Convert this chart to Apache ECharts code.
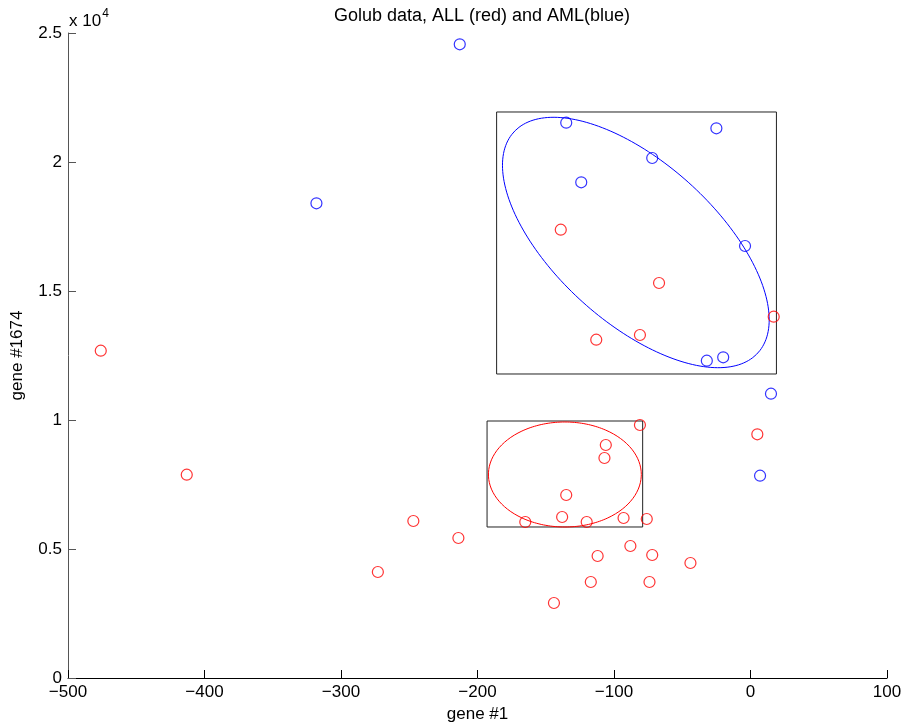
<!DOCTYPE html>
<html>
<head>
<meta charset="utf-8">
<script src="https://cdn.jsdelivr.net/npm/echarts@6/dist/echarts.min.js"></script>
<style>
  html, body { margin: 0; padding: 0; background: #fff; }
  #chart { width: 905px; height: 728px; }
</style>
</head>
<body>
<div id="chart"></div>
<script>
// ALL samples (red), gene #1 vs gene #1674
const allX = [-476, -413, -247, -214, -273, -139, -67, 17, -81, -113, -81, -106, -107, 5,
  -135, -165, -138, -120, -93, -76, -88, -112, -72, -44, -117, -74, -144]
const allY = [12686, 7880, 6085, 5426, 4109, 17376, 15310, 14004, 13295, 13112, 9806, 9031, 8527, 9446,
  7093, 6047, 6240, 6047, 6202, 6163, 5116, 4729, 4767, 4457, 3721, 3721, 2907]

// AML samples (blue)
const amlX = [-213, -318, -135, -25, -72, -124, -4, -32, -20, 15, 7]
const amlY = [24562, 18400, 21523, 21306, 20155, 19213, 16744, 12298, 12430, 11019, 7841]

// fitted ellipses: center, spread (x, y), correlation
const amlEllipseCenter = [-84, 16880]
const amlEllipseSpread = [97.7, 4853]
const amlEllipseRho = -0.617
const allEllipseCenter = [-136, 7888]
const allEllipseSpread = [56, 2035]
const allEllipseRho = 0

// boxes: [xmin, xmax, ymin, ymax]
const amlBox = [-186, 19, 11783, 21938]
const allBox = [-193, -79, 5853, 9961]

// axes
const xMin = -500, xMax = 100, xStep = 100
const yMin = 0, yMax = 25000, yStep = 5000
const xTickLabels = ['\u2212500', '\u2212400', '\u2212300', '\u2212200', '\u2212100', '0', '100']
const yTickLabels = ['0', '0.5', '1', '1.5', '2', '2.5']

const font = 'Liberation Sans, Arial, Helvetica, sans-serif'

const pairs = (xs, ys) => xs.map((x, i) => [x, ys[i]])

const ellipse = (c, s, rho) => {
  const pts = []
  const k = Math.sqrt(1 - rho * rho)
  for (let i = 0; i <= 200; i++) {
    const t = i / 200 * Math.PI * 2
    pts.push([c[0] + s[0] * Math.cos(t), c[1] + s[1] * (rho * Math.cos(t) + k * Math.sin(t))])
  }
  return pts
}

const box = b => [[b[0], b[2]], [b[1], b[2]], [b[1], b[3]], [b[0], b[3]], [b[0], b[2]]]

const chart = echarts.init(document.getElementById('chart'))

const marker = color => ({
  type: 'scatter',
  symbol: 'circle',
  symbolSize: 11,
  z: 5,
  itemStyle: { color: 'rgba(0,0,0,0)', borderColor: color, borderWidth: 1.2 }
})

const outline = (data, color) => ({
  type: 'line',
  data,
  showSymbol: false,
  smooth: false,
  z: 3,
  lineStyle: { color, width: 1 }
})

chart.setOption({
  animation: false,
  textStyle: { fontFamily: font },
  title: [
    {
      text: 'Golub data, ALL (red) and AML(blue)',
      left: 477, top: 2, textAlign: 'center',
      textStyle: { fontSize: 18, fontWeight: 'normal', color: '#000', fontFamily: font }
    },
    {
      text: '{a|x 10}{b|4}',
      left: 64, top: 3,
      textStyle: {
        fontWeight: 'normal',
        rich: {
          a: { fontSize: 17, fontWeight: 'normal', color: '#000', fontFamily: font, verticalAlign: 'bottom' },
          b: { fontSize: 12, fontWeight: 'normal', color: '#000', fontFamily: font, verticalAlign: 'top', padding: [0, 0, 10, 1] }
        }
      }
    }
  ],
  grid: { left: 68, right: 18, top: 33, bottom: 50 },
  xAxis: {
    type: 'value',
    min: xMin, max: xMax, interval: xStep,
    name: 'gene #1',
    nameLocation: 'middle',
    nameGap: 28,
    nameTextStyle: { fontSize: 17, color: '#000', fontFamily: font },
    axisLine: { show: true, onZero: false, lineStyle: { color: '#000', width: 1 } },
    axisTick: { show: true, inside: true, length: 8, lineStyle: { color: '#000' } },
    axisLabel: {
      fontSize: 17, color: '#000', margin: 6, fontFamily: font,
      formatter: v => xTickLabels[Math.round((v - xMin) / xStep)]
    },
    splitLine: { show: false }
  },
  yAxis: {
    type: 'value',
    min: yMin, max: yMax, interval: yStep,
    name: 'gene #1674',
    nameLocation: 'middle',
    nameGap: 42,
    nameRotate: 90,
    nameTextStyle: { fontSize: 17, color: '#000', fontFamily: font },
    axisLine: { show: true, onZero: false, lineStyle: { color: '#555', width: 1 } },
    axisTick: { show: true, inside: true, length: 8, lineStyle: { color: '#555' } },
    axisLabel: {
      fontSize: 17, color: '#000', margin: 6, fontFamily: font,
      formatter: v => yTickLabels[Math.round((v - yMin) / yStep)]
    },
    splitLine: { show: false }
  },
  series: [
    outline(box(amlBox), '#222'),
    outline(box(allBox), '#222'),
    outline(ellipse(amlEllipseCenter, amlEllipseSpread, amlEllipseRho), '#0000ff'),
    outline(ellipse(allEllipseCenter, allEllipseSpread, allEllipseRho), '#ff0000'),
    Object.assign(marker('#ff0000'), { name: 'ALL', data: pairs(allX, allY) }),
    Object.assign(marker('#0000ff'), { name: 'AML', data: pairs(amlX, amlY) })
  ]
})
</script>
</body>
</html>
